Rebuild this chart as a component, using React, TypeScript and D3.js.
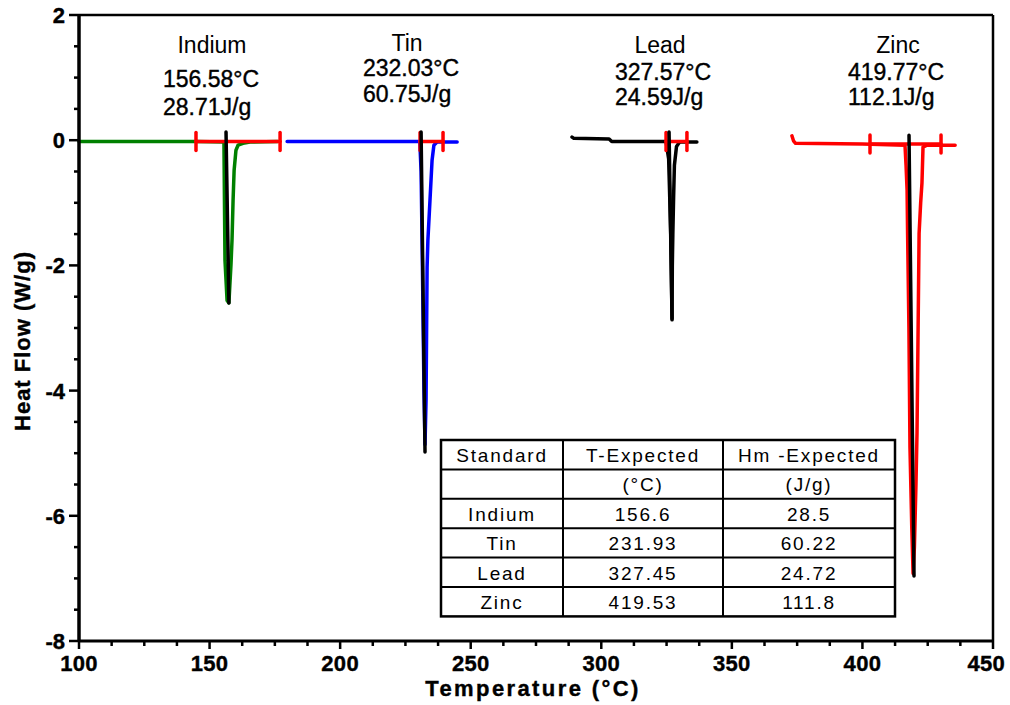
import React from "react";
import * as d3 from "d3";

// ---------- data ----------
const X_TICKS = [100, 150, 200, 250, 300, 350, 400, 450];
const Y_TICKS = [2, 0, -2, -4, -6, -8];

// DSC curves [temperature °C, heat flow W/g]
const indiumCurve: [number, number][] = [
  [100, -0.02], [145, -0.02], [155.5, -0.03], [155.6, -0.48], [155.9, -1.92],
  [156.7, -2.56], [157.4, -2.6], [158.2, -1.99], [158.6, -1.59], [159.0, -0.96],
  [159.4, -0.48], [160.1, -0.16], [160.9, -0.08], [162.8, -0.05], [165.5, -0.03], [176, -0.02],
];
const tinCurve: [number, number][] = [
  [179.7, -0.02], [230.5, -0.02], [231.0, -0.5], [231.5, -2.0], [232.1, -4.0],
  [232.5, -4.86], [232.9, -4.15], [233.1, -3.08], [233.3, -2.03], [233.6, -1.6],
  [234.4, -0.96], [235.2, -0.32], [235.9, -0.08], [237.1, -0.03], [244.8, -0.03],
];
const leadCurve: [number, number][] = [
  [288.8, 0.05], [289.5, 0.03], [303, 0.02], [304, -0.02], [324.8, -0.02],
  [325.8, -0.3], [326.6, -1.5], [327.1, -2.85], [327.2, -2.0], [327.4, -1.5],
  [327.7, -0.9], [328.0, -0.4], [328.8, -0.1], [330.0, -0.03], [336.6, -0.03],
];
const zincCurve: [number, number][] = [
  [373.0, 0.07], [373.6, -0.01], [374.4, -0.05], [400, -0.06], [416.3, -0.08],
  [416.7, -0.4], [417.1, -0.8], [417.3, -1.5], [417.8, -3.0], [418.2, -4.9],
  [418.9, -6.2], [419.4, -6.92], [419.9, -6.5], [420.5, -5.5], [420.9, -4.68],
  [421.3, -3.08], [421.7, -1.49], [422.3, -1.0], [422.8, -0.68], [423.2, -0.11],
  [424.7, -0.08], [435.5, -0.08],
];

// black onset spikes [[T,top],[T,bottom]]
const indiumSpike: [number, number][] = [[156.3, 0.13], [157.4, -2.6]];
const tinSpike: [number, number][] = [[231.0, 0.13], [232.5, -4.98]];
const leadSpike: [number, number][] = [[325.95, 0.13], [327.1, -2.87]];
const zincSpike: [number, number][] = [[417.84, 0.08], [419.75, -6.96]];

// red integration ranges [start, end, level]
const integrationRanges: [number, number, number][] = [
  [144.8, 177.0, -0.02],
  [230.6, 239.4, -0.02],
  [324.8, 332.8, -0.02],
  [402.9, 430.1, -0.06],
];

// annotations
const standards = ["Indium", "Tin", "Lead", "Zinc"];
const measuredT = ["156.58°C", "232.03°C", "327.57°C", "419.77°C"];
const measuredH = ["28.71J/g", "60.75J/g", "24.59J/g", "112.1J/g"];

// table
const tableHeader = ["Standard", "T-Expected", "Hm -Expected"];
const tableUnits = ["", "(°C)", "(J/g)"];
const tExpected = ["156.6", "231.93", "327.45", "419.53"];
const hmExpected = ["28.5", "60.22", "24.72", "111.8"];

// ---------- layout ----------
const W = 1010, H = 705;
const M = { left: 79, right: 17, top: 15, bottom: 64 };
const FONT = "'Liberation Sans', Arial, Helvetica, sans-serif";

// annotation anchors (px): name center x, value left x, baselines
const annLayout = [
  { cx: 212, lx: 163, y: [53, 87, 115] },
  { cx: 407, lx: 363, y: [51, 76, 102] },
  { cx: 660, lx: 615, y: [53, 80, 105] },
  { cx: 898, lx: 848, y: [53, 80, 105] },
];

const tableBox = { cols: [441, 563, 723, 895], y0: 440, rowH: 29.4 };

export default function App() {
  const x = d3.scaleLinear().domain([100, 450]).range([M.left, W - M.right]);
  const y = d3.scaleLinear().domain([-8, 2]).range([H - M.bottom, M.top]);
  const line = d3.line<[number, number]>().x(d => x(d[0])).y(d => y(d[1]));

  const xMinor = d3.range(100, 450.01, 12.5).filter(v => v % 50 !== 0);
  const yMinor = d3.range(-8, 2.01, 0.5).filter(v => v % 2 !== 0);

  const curves: { d: [number, number][]; c: string }[] = [
    { d: indiumCurve, c: "#008000" },
    { d: tinCurve, c: "#0000ff" },
    { d: leadCurve, c: "#000000" },
    { d: zincCurve, c: "#ff0000" },
  ];
  const spikes = [indiumSpike, tinSpike, leadSpike, zincSpike];

  const rows = [
    tableHeader,
    tableUnits,
    ...standards.map((s, i) => [s, tExpected[i], hmExpected[i]]),
  ];
  const tb = tableBox;
  const tableBottom = tb.y0 + rows.length * tb.rowH;
  const lastTick = X_TICKS[X_TICKS.length - 1];

  return (
    <svg width={W} height={H} style={{ position: "absolute", left: 0, top: 0, background: "#fff" }} fontFamily={FONT}>
      <rect width={W} height={H} fill="#fff" />

      {/* curves */}
      {curves.map((c, i) => (
        <path key={"c" + i} d={line(c.d) || ""} fill="none" stroke={c.c} strokeWidth={3.5} strokeLinejoin="round" strokeLinecap="round" />
      ))}

      {/* integration ranges */}
      {integrationRanges.map(([a, b, lv], i) => (
        <g key={"r" + i} stroke="#ff0000" strokeWidth={3.5} strokeLinecap="round">
          <line x1={x(a)} x2={x(b)} y1={y(lv)} y2={y(lv)} />
          <line x1={x(a)} x2={x(a)} y1={y(lv) - 9} y2={y(lv) + 9} />
          <line x1={x(b)} x2={x(b)} y1={y(lv) - 9} y2={y(lv) + 9} />
        </g>
      ))}

      {/* spikes */}
      {spikes.map((s, i) => (
        <path key={"s" + i} d={line(s) || ""} fill="none" stroke="#000" strokeWidth={3.5} strokeLinecap="round" />
      ))}

      {/* frame */}
      <line x1={M.left} x2={W - M.right} y1={M.top} y2={M.top} stroke="#000" strokeWidth={2.5} />
      <line x1={W - M.right} x2={W - M.right} y1={M.top} y2={H - M.bottom} stroke="#000" strokeWidth={2.5} />
      <line x1={M.left} x2={W - M.right} y1={H - M.bottom} y2={H - M.bottom} stroke="#000" strokeWidth={3} />
      <line x1={M.left} x2={M.left} y1={M.top} y2={H - M.bottom} stroke="#000" strokeWidth={3.5} />

      {/* x ticks */}
      {X_TICKS.map(v => (
        <g key={"xt" + v}>
          <line x1={x(v)} x2={x(v)} y1={H - M.bottom} y2={H - M.bottom + 8} stroke="#000" strokeWidth={2.5} />
          <text x={v === lastTick ? W - 5 : x(v)} y={671} textAnchor={v === lastTick ? "end" : "middle"}
            fontSize={22} fontWeight="bold" letterSpacing={0.3} stroke="#000" strokeWidth={0.4}>{v}</text>
        </g>
      ))}
      {xMinor.map(v => (
        <line key={"xm" + v} x1={x(v)} x2={x(v)} y1={H - M.bottom} y2={H - M.bottom + 5} stroke="#000" strokeWidth={2.5} />
      ))}

      {/* y ticks */}
      {Y_TICKS.map(v => (
        <g key={"yt" + v}>
          <line x1={M.left - 10} x2={M.left} y1={y(v)} y2={y(v)} stroke="#000" strokeWidth={2.5} />
          <text x={65} y={y(v) + 8} textAnchor="end" fontSize={22} fontWeight="bold"
            stroke="#000" strokeWidth={0.4}>{v}</text>
        </g>
      ))}
      {yMinor.map(v => (
        <line key={"ym" + v} x1={M.left - 5} x2={M.left} y1={y(v)} y2={y(v)} stroke="#000" strokeWidth={2.5} />
      ))}

      {/* axis titles */}
      <text x={533} y={696} textAnchor="middle" fontSize={22} fontWeight="bold" letterSpacing={2.4}
        stroke="#000" strokeWidth={0.4}>Temperature (°C)</text>
      <text transform={`translate(30,341) rotate(-90)`} textAnchor="middle" fontSize={22} fontWeight="bold" letterSpacing={1}
        stroke="#000" strokeWidth={0.4}>Heat Flow (W/g)</text>

      {/* annotations */}
      {standards.map((s, i) => (
        <g key={"a" + i} fontSize={23}>
          <text x={annLayout[i].cx} y={annLayout[i].y[0]} textAnchor="middle">{s}</text>
          <text x={annLayout[i].lx} y={annLayout[i].y[1]} stroke="#000" strokeWidth={0.4}>{measuredT[i]}</text>
          <text x={annLayout[i].lx} y={annLayout[i].y[2]} stroke="#000" strokeWidth={0.4}>{measuredH[i]}</text>
        </g>
      ))}

      {/* table */}
      <g>
        <rect x={tb.cols[0]} y={tb.y0} width={tb.cols[3] - tb.cols[0]} height={tableBottom - tb.y0} fill="#fff" stroke="#000" strokeWidth={2.5} />
        {rows.slice(1).map((_, i) => (
          <line key={"hl" + i} x1={tb.cols[0]} x2={tb.cols[3]} y1={tb.y0 + (i + 1) * tb.rowH} y2={tb.y0 + (i + 1) * tb.rowH} stroke="#000" strokeWidth={2} />
        ))}
        {tb.cols.slice(1, 3).map((cx, i) => (
          <line key={"vl" + i} x1={cx} x2={cx} y1={tb.y0} y2={tableBottom} stroke="#000" strokeWidth={2} />
        ))}
        {rows.map((r, ri) =>
          r.map((cell, ci) => (
            <text key={`t${ri}-${ci}`} x={(tb.cols[ci] + tb.cols[ci + 1]) / 2} y={tb.y0 + ri * tb.rowH + 22}
              textAnchor="middle" fontSize={19} letterSpacing={1.8}>{cell}</text>
          ))
        )}
      </g>
    </svg>
  );
}
